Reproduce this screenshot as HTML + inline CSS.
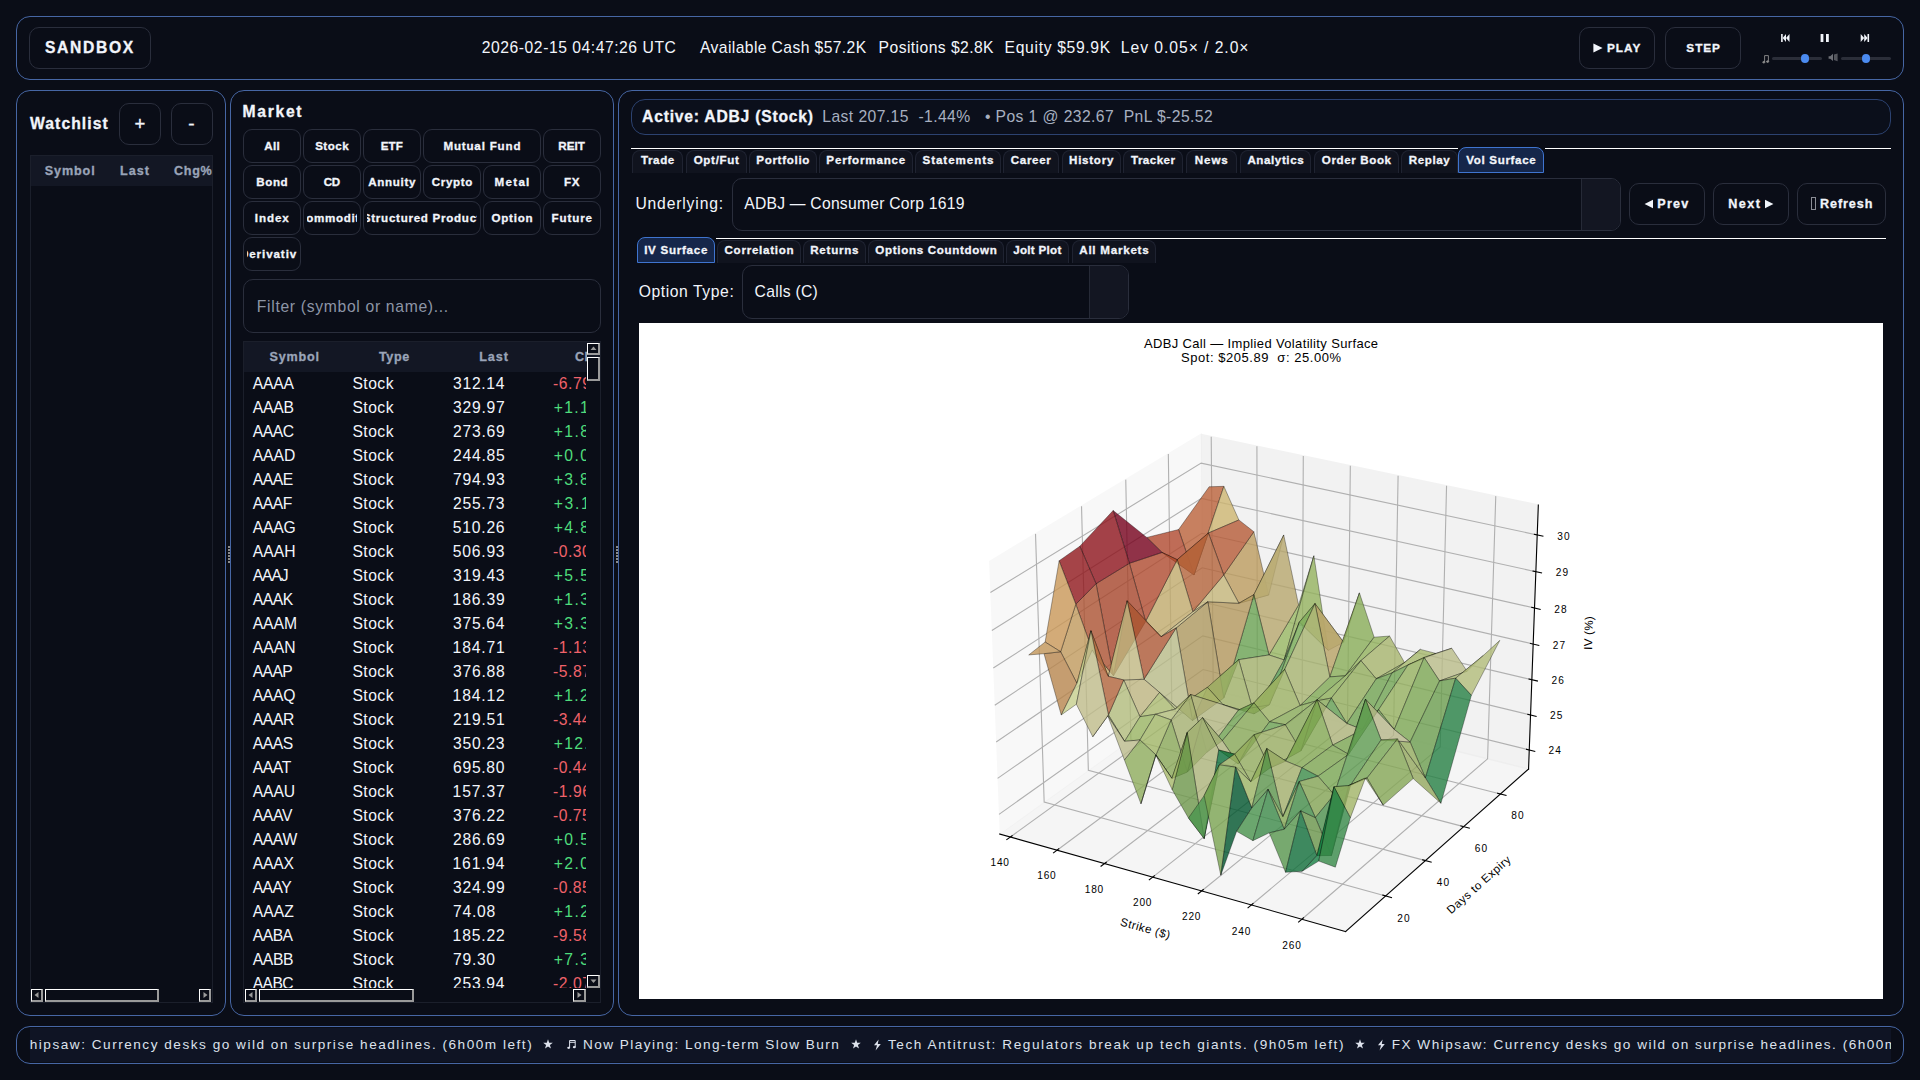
<!DOCTYPE html>
<html><head><meta charset="utf-8"><title>Sandbox</title>
<style>
html,body{margin:0;padding:0;background:#0a0d17;}
body{width:1920px;height:1080px;position:relative;overflow:hidden;font-family:"Liberation Sans",sans-serif;color:#f2f5fb;}
div,span,svg{position:absolute;box-sizing:border-box;}
.t{white-space:pre;line-height:20px;height:20px;}
.clip{overflow:hidden;}
.panel{border:1px solid #4666a4;border-radius:14px;background:#0a0d17;}
.btn{border:1px solid #2a2e3c;border-radius:10px;background:#0a0d17;}
.sbtn{border:1px solid #2a2e3c;border-radius:9px;background:#0a0d17;}
.tab{border:1px solid #1f2331;border-bottom:none;border-radius:8px 8px 0 0;background:#10131e;}
.tabsel{border:1px solid #3f74cf;border-radius:8px 8px 0 0;background:#15264a;}
.wl{background:#ffffff;height:1px;}
.hdr{background:#131724;}
.sb{background:#0a0d17;border-top:1px solid #fff;border-left:1px solid #fff;border-right:2px solid #9a9a9a;border-bottom:2px solid #9a9a9a;}

</style></head>
<body>
<div class="panel" style="left:16px;top:16px;width:1888px;height:64px;"></div>
<div class="panel" style="left:16px;top:90px;width:210px;height:926px;"></div>
<div class="panel" style="left:230px;top:90px;width:384px;height:926px;"></div>
<div class="panel" style="left:618px;top:90px;width:1286px;height:926px;"></div>
<div class="panel" style="left:16px;top:1026px;width:1888px;height:38px;"></div>
<div class="" style="left:228px;top:546px;width:2px;height:1.5px;background:#8a8a8a;"></div>
<div class="" style="left:228px;top:549px;width:2px;height:1.5px;background:#8a8a8a;"></div>
<div class="" style="left:228px;top:552px;width:2px;height:1.5px;background:#8a8a8a;"></div>
<div class="" style="left:228px;top:555px;width:2px;height:1.5px;background:#8a8a8a;"></div>
<div class="" style="left:228px;top:558px;width:2px;height:1.5px;background:#8a8a8a;"></div>
<div class="" style="left:228px;top:561px;width:2px;height:1.5px;background:#8a8a8a;"></div>
<div class="" style="left:616px;top:546px;width:2px;height:1.5px;background:#8a8a8a;"></div>
<div class="" style="left:616px;top:549px;width:2px;height:1.5px;background:#8a8a8a;"></div>
<div class="" style="left:616px;top:552px;width:2px;height:1.5px;background:#8a8a8a;"></div>
<div class="" style="left:616px;top:555px;width:2px;height:1.5px;background:#8a8a8a;"></div>
<div class="" style="left:616px;top:558px;width:2px;height:1.5px;background:#8a8a8a;"></div>
<div class="" style="left:616px;top:561px;width:2px;height:1.5px;background:#8a8a8a;"></div>
<div class="btn" style="left:29px;top:27px;width:122px;height:42px;"></div>
<span id="sandbox" class="t" style="left:44.94px;top:37.55px;font-size:15.7px;letter-spacing:1.641px;color:#f2f5fb;font-weight:700;-webkit-text-stroke:0.3px;">SANDBOX</span>
<span id="time" class="t" style="left:481.83px;top:37.85px;font-size:15.7px;letter-spacing:0.533px;color:#f2f5fb;">2026-02-15 04:47:26 UTC</span>
<span id="cash" class="t" style="left:700.06px;top:37.85px;font-size:15.7px;letter-spacing:0.384px;color:#f2f5fb;">Available Cash $57.2K</span>
<span id="pos" class="t" style="left:878.60px;top:37.85px;font-size:15.7px;letter-spacing:0.427px;color:#f2f5fb;">Positions $2.8K</span>
<span id="eq" class="t" style="left:1004.60px;top:37.85px;font-size:15.7px;letter-spacing:0.659px;color:#f2f5fb;">Equity $59.9K</span>
<span id="lev" class="t" style="left:1120.85px;top:37.85px;font-size:15.7px;letter-spacing:0.951px;color:#f2f5fb;">Lev 0.05× / 2.0×</span>
<div class="btn" style="left:1579px;top:27px;width:76px;height:42px;"></div>
<div class="btn" style="left:1665px;top:27px;width:76px;height:42px;"></div>
<svg style="left:1593px;top:43px" width="10" height="10" viewBox="0 0 10 10"><path d="M0.4 0.6 L9.6 5 L0.4 9.4 Z" fill="#f2f5fb"/></svg>
<span id="play" class="t" style="left:1606.92px;top:38.21px;font-size:11.8px;letter-spacing:1.018px;color:#f2f5fb;font-weight:700;-webkit-text-stroke:0.3px;">PLAY</span>
<span id="step" class="t" style="left:1686.36px;top:38.21px;font-size:11.8px;letter-spacing:0.898px;color:#f2f5fb;font-weight:700;-webkit-text-stroke:0.3px;">STEP</span>
<svg style="left:1780px;top:33px" width="92" height="10" viewBox="0 0 92 10">
<g fill="#f2f5fb">
<rect x="1.1" y="1" width="1.6" height="8"/><path d="M6 1 L6 9 L2.7 5 Z"/><path d="M9.5 1 L9.5 9 L6 5 Z"/>
<rect x="40.6" y="1" width="2.8" height="8"/><rect x="46" y="1" width="2.8" height="8"/>
<path d="M80.7 1 L84.2 5 L80.7 9 Z"/><path d="M84.2 1 L87.6 5 L84.2 9 Z"/><rect x="87.5" y="1" width="1.6" height="8"/>
</g></svg>
<div class="" style="left:1772px;top:57px;width:50px;height:3px;background:#2b2e39;border-radius:1.5px;"></div>
<div class="" style="left:1841px;top:57px;width:50px;height:3px;background:#2b2e39;border-radius:1.5px;"></div>
<div class="" style="left:1800.8px;top:54.4px;width:8.4px;height:8.4px;background:#4b8bf0;border-radius:50%;"></div>
<div class="" style="left:1861.8px;top:54.4px;width:8.4px;height:8.4px;background:#4b8bf0;border-radius:50%;"></div>
<svg style="left:1762px;top:54px" width="8" height="10" viewBox="0 0 8 10"><g fill="none" stroke="#8f8f8f" stroke-width="0.9"><path d="M2.6 8 V1.6 H6.4 V7.4"/><ellipse cx="1.8" cy="8.2" rx="1.1" ry="0.8" fill="#8f8f8f"/><ellipse cx="5.6" cy="7.6" rx="1.1" ry="0.8" fill="#8f8f8f"/></g></svg>
<svg style="left:1828px;top:53px" width="11" height="9" viewBox="0 0 11 9"><g fill="#6d6f76"><path d="M0.6 3.2 H2.2 L5 0.8 V8 L2.2 5.8 H0.6 Z"/><path d="M6 1.6 L9.6 0.6 V8.2 L6 7 Z" opacity="0.75"/></g></svg>
<span id="wl" class="t" style="left:29.98px;top:113.95px;font-size:15.7px;letter-spacing:1.082px;color:#f2f5fb;font-weight:700;-webkit-text-stroke:0.3px;">Watchlist</span>
<div class="btn" style="left:119px;top:103px;width:42px;height:42px;"></div>
<div class="btn" style="left:171px;top:103px;width:42px;height:42px;"></div>
<span id="plus" class="t" style="left:134.41px;top:114.38px;font-size:18.5px;letter-spacing:0.000px;color:#f2f5fb;-webkit-text-stroke:0.3px;">+</span>
<span id="minus" class="t" style="left:188.20px;top:114.41px;font-size:19px;letter-spacing:0.000px;color:#f2f5fb;-webkit-text-stroke:0.3px;">-</span>
<div class="" style="left:30px;top:155px;width:183px;height:848px;border:1px solid #1b1f2b;"></div>
<div class="hdr" style="left:31px;top:156px;width:181px;height:30px;"></div>
<span id="wsym" class="t" style="left:44.75px;top:161.43px;font-size:12.6px;letter-spacing:0.894px;color:#9aa4b8;font-weight:700;-webkit-text-stroke:0.3px;">Symbol</span>
<span id="wlast" class="t" style="left:120.11px;top:161.43px;font-size:12.6px;letter-spacing:0.961px;color:#9aa4b8;font-weight:700;-webkit-text-stroke:0.3px;">Last</span>
<div class="clip" style="left:160px;top:156px;width:52px;height:30px"><span id="wchg" class="t" style="left:13.92px;top:5.43px;font-size:12.6px;letter-spacing:0.745px;color:#9aa4b8;font-weight:700;-webkit-text-stroke:0.3px;">Chg%</span></div>
<div class="sb" style="left:31px;top:989px;width:12px;height:13px;"></div>
<div class="sb" style="left:45px;top:989px;width:114px;height:13px;"></div>
<div class="sb" style="left:199px;top:989px;width:12px;height:13px;"></div>
<svg style="left:31px;top:989px" width="12" height="13"><path d="M7.5 3 V9 L3.5 6 Z" fill="#9a9a9a"/></svg>
<svg style="left:199px;top:989px" width="12" height="13"><path d="M4.5 3 V9 L8.5 6 Z" fill="#9a9a9a"/></svg>
<span id="mk" class="t" style="left:242.62px;top:101.55px;font-size:15.7px;letter-spacing:1.678px;color:#f2f5fb;font-weight:700;-webkit-text-stroke:0.3px;">Market</span>
<div class="sbtn" style="left:243px;top:129px;width:58px;height:34px;"></div>
<div class="clip" style="left:247px;top:131px;width:50px;height:30px"><span id="b0" class="t" style="left:17.34px;top:5.17px;font-size:11.6px;letter-spacing:0.343px;color:#f2f5fb;font-weight:700;-webkit-text-stroke:0.3px;">All</span></div>
<div class="sbtn" style="left:303px;top:129px;width:58px;height:34px;"></div>
<div class="clip" style="left:307px;top:131px;width:50px;height:30px"><span id="b1" class="t" style="left:8.14px;top:5.17px;font-size:11.6px;letter-spacing:0.470px;color:#f2f5fb;font-weight:700;-webkit-text-stroke:0.3px;">Stock</span></div>
<div class="sbtn" style="left:363px;top:129px;width:58px;height:34px;"></div>
<div class="clip" style="left:367px;top:131px;width:50px;height:30px"><span id="b2" class="t" style="left:13.74px;top:5.17px;font-size:11.6px;letter-spacing:0.071px;color:#f2f5fb;font-weight:700;-webkit-text-stroke:0.3px;">ETF</span></div>
<div class="sbtn" style="left:423px;top:129px;width:118px;height:34px;"></div>
<div class="clip" style="left:427px;top:131px;width:110px;height:30px"><span id="b3" class="t" style="left:16.44px;top:5.17px;font-size:11.6px;letter-spacing:0.813px;color:#f2f5fb;font-weight:700;-webkit-text-stroke:0.3px;">Mutual Fund</span></div>
<div class="sbtn" style="left:543px;top:129px;width:58px;height:34px;"></div>
<div class="clip" style="left:547px;top:131px;width:50px;height:30px"><span id="b4" class="t" style="left:11.33px;top:5.17px;font-size:11.6px;letter-spacing:0.047px;color:#f2f5fb;font-weight:700;-webkit-text-stroke:0.3px;">REIT</span></div>
<div class="sbtn" style="left:243px;top:165px;width:58px;height:34px;"></div>
<div class="clip" style="left:247px;top:167px;width:50px;height:30px"><span id="b5" class="t" style="left:9.17px;top:5.17px;font-size:11.6px;letter-spacing:0.640px;color:#f2f5fb;font-weight:700;-webkit-text-stroke:0.3px;">Bond</span></div>
<div class="sbtn" style="left:303px;top:165px;width:58px;height:34px;"></div>
<div class="clip" style="left:307px;top:167px;width:50px;height:30px"><span id="b6" class="t" style="left:16.82px;top:5.17px;font-size:11.6px;letter-spacing:-0.525px;color:#f2f5fb;font-weight:700;-webkit-text-stroke:0.3px;">CD</span></div>
<div class="sbtn" style="left:363px;top:165px;width:58px;height:34px;"></div>
<div class="clip" style="left:367px;top:167px;width:50px;height:30px"><span id="b7" class="t" style="left:1.15px;top:5.17px;font-size:11.6px;letter-spacing:0.687px;color:#f2f5fb;font-weight:700;-webkit-text-stroke:0.3px;">Annuity</span></div>
<div class="sbtn" style="left:423px;top:165px;width:58px;height:34px;"></div>
<div class="clip" style="left:427px;top:167px;width:50px;height:30px"><span id="b8" class="t" style="left:4.69px;top:5.17px;font-size:11.6px;letter-spacing:0.662px;color:#f2f5fb;font-weight:700;-webkit-text-stroke:0.3px;">Crypto</span></div>
<div class="sbtn" style="left:483px;top:165px;width:58px;height:34px;"></div>
<div class="clip" style="left:487px;top:167px;width:50px;height:30px"><span id="b9" class="t" style="left:7.62px;top:5.17px;font-size:11.6px;letter-spacing:1.272px;color:#f2f5fb;font-weight:700;-webkit-text-stroke:0.3px;">Metal</span></div>
<div class="sbtn" style="left:543px;top:165px;width:58px;height:34px;"></div>
<div class="clip" style="left:547px;top:167px;width:50px;height:30px"><span id="b10" class="t" style="left:17.11px;top:5.17px;font-size:11.6px;letter-spacing:0.639px;color:#f2f5fb;font-weight:700;-webkit-text-stroke:0.3px;">FX</span></div>
<div class="sbtn" style="left:243px;top:201px;width:58px;height:34px;"></div>
<div class="clip" style="left:247px;top:203px;width:50px;height:30px"><span id="b11" class="t" style="left:7.81px;top:5.17px;font-size:11.6px;letter-spacing:0.904px;color:#f2f5fb;font-weight:700;-webkit-text-stroke:0.3px;">Index</span></div>
<div class="sbtn" style="left:303px;top:201px;width:58px;height:34px;"></div>
<div class="clip" style="left:307px;top:203px;width:50px;height:30px"><span id="b12" class="t" style="left:-9.92px;top:5.17px;font-size:11.6px;letter-spacing:0.682px;color:#f2f5fb;font-weight:700;-webkit-text-stroke:0.3px;">Commodity</span></div>
<div class="sbtn" style="left:363px;top:201px;width:118px;height:34px;"></div>
<div class="clip" style="left:367px;top:203px;width:110px;height:30px"><span id="b13" class="t" style="left:-4.17px;top:5.17px;font-size:11.6px;letter-spacing:0.717px;color:#f2f5fb;font-weight:700;-webkit-text-stroke:0.3px;">Structured Product</span></div>
<div class="sbtn" style="left:483px;top:201px;width:58px;height:34px;"></div>
<div class="clip" style="left:487px;top:203px;width:50px;height:30px"><span id="b14" class="t" style="left:4.50px;top:5.17px;font-size:11.6px;letter-spacing:0.751px;color:#f2f5fb;font-weight:700;-webkit-text-stroke:0.3px;">Option</span></div>
<div class="sbtn" style="left:543px;top:201px;width:58px;height:34px;"></div>
<div class="clip" style="left:547px;top:203px;width:50px;height:30px"><span id="b15" class="t" style="left:4.57px;top:5.17px;font-size:11.6px;letter-spacing:0.876px;color:#f2f5fb;font-weight:700;-webkit-text-stroke:0.3px;">Future</span></div>
<div class="sbtn" style="left:243px;top:237px;width:58px;height:34px;"></div>
<div class="clip" style="left:247px;top:239px;width:50px;height:30px"><span id="b16" class="t" style="left:-7.13px;top:5.17px;font-size:11.6px;letter-spacing:0.925px;color:#f2f5fb;font-weight:700;-webkit-text-stroke:0.3px;">Derivative</span></div>
<div class="btn" style="left:243px;top:279px;width:358px;height:54px;"></div>
<span id="filt" class="t" style="left:256.85px;top:296.55px;font-size:15.7px;letter-spacing:0.678px;color:#8d95a6;">Filter (symbol or name)...</span>
<div class="" style="left:243px;top:341px;width:358px;height:662px;border:1px solid #1b1f2b;"></div>
<div class="hdr" style="left:244px;top:342px;width:356px;height:30px;"></div>
<span id="msym" class="t" style="left:269.48px;top:347.23px;font-size:12.6px;letter-spacing:0.820px;color:#9aa4b8;font-weight:700;-webkit-text-stroke:0.3px;">Symbol</span>
<span id="mtype" class="t" style="left:378.94px;top:347.23px;font-size:12.6px;letter-spacing:0.652px;color:#9aa4b8;font-weight:700;-webkit-text-stroke:0.3px;">Type</span>
<span id="mlast" class="t" style="left:479.22px;top:347.23px;font-size:12.6px;letter-spacing:0.919px;color:#9aa4b8;font-weight:700;-webkit-text-stroke:0.3px;">Last</span>
<div class="clip" style="left:560px;top:342px;width:27px;height:30px"><span id="mchg" class="t" style="left:14.97px;top:5.23px;font-size:12.6px;letter-spacing:0.472px;color:#9aa4b8;font-weight:700;-webkit-text-stroke:0.3px;">Chg%</span></div>
<div class="clip" style="left:244px;top:372px;width:342px;height:616px"><span id="r0s" class="t" style="left:8.67px;top:1.55px;font-size:15.7px;letter-spacing:-0.178px;color:#f2f5fb;">AAAA</span></div>
<div class="clip" style="left:244px;top:372px;width:342px;height:616px"><span id="r0t" class="t" style="left:108.44px;top:1.55px;font-size:15.7px;letter-spacing:0.460px;color:#f2f5fb;">Stock</span></div>
<div class="clip" style="left:244px;top:372px;width:342px;height:616px"><span id="r0l" class="t" style="left:209.08px;top:1.55px;font-size:15.7px;letter-spacing:0.691px;color:#f2f5fb;">312.14</span></div>
<div class="clip" style="left:244px;top:372px;width:342px;height:616px"><span id="r0c" class="t" style="left:308.94px;top:1.55px;font-size:15.7px;letter-spacing:0.570px;color:#f0626a;">-6.79</span></div>
<div class="clip" style="left:244px;top:372px;width:342px;height:616px"><span id="r1s" class="t" style="left:8.67px;top:25.55px;font-size:15.7px;letter-spacing:-0.146px;color:#f2f5fb;">AAAB</span></div>
<div class="clip" style="left:244px;top:372px;width:342px;height:616px"><span id="r1t" class="t" style="left:108.44px;top:25.55px;font-size:15.7px;letter-spacing:0.460px;color:#f2f5fb;">Stock</span></div>
<div class="clip" style="left:244px;top:372px;width:342px;height:616px"><span id="r1l" class="t" style="left:209.08px;top:25.55px;font-size:15.7px;letter-spacing:0.753px;color:#f2f5fb;">329.97</span></div>
<div class="clip" style="left:244px;top:372px;width:342px;height:616px"><span id="r1c" class="t" style="left:309.78px;top:25.55px;font-size:15.7px;letter-spacing:1.347px;color:#4fdc7c;">+1.15</span></div>
<div class="clip" style="left:244px;top:372px;width:342px;height:616px"><span id="r2s" class="t" style="left:8.67px;top:49.55px;font-size:15.7px;letter-spacing:-0.406px;color:#f2f5fb;">AAAC</span></div>
<div class="clip" style="left:244px;top:372px;width:342px;height:616px"><span id="r2t" class="t" style="left:108.44px;top:49.55px;font-size:15.7px;letter-spacing:0.460px;color:#f2f5fb;">Stock</span></div>
<div class="clip" style="left:244px;top:372px;width:342px;height:616px"><span id="r2l" class="t" style="left:209.08px;top:49.55px;font-size:15.7px;letter-spacing:0.723px;color:#f2f5fb;">273.69</span></div>
<div class="clip" style="left:244px;top:372px;width:342px;height:616px"><span id="r2c" class="t" style="left:309.78px;top:49.55px;font-size:15.7px;letter-spacing:1.382px;color:#4fdc7c;">+1.83</span></div>
<div class="clip" style="left:244px;top:372px;width:342px;height:616px"><span id="r3s" class="t" style="left:8.67px;top:73.55px;font-size:15.7px;letter-spacing:0.002px;color:#f2f5fb;">AAAD</span></div>
<div class="clip" style="left:244px;top:372px;width:342px;height:616px"><span id="r3t" class="t" style="left:108.44px;top:73.55px;font-size:15.7px;letter-spacing:0.460px;color:#f2f5fb;">Stock</span></div>
<div class="clip" style="left:244px;top:372px;width:342px;height:616px"><span id="r3l" class="t" style="left:209.08px;top:73.55px;font-size:15.7px;letter-spacing:0.721px;color:#f2f5fb;">244.85</span></div>
<div class="clip" style="left:244px;top:372px;width:342px;height:616px"><span id="r3c" class="t" style="left:309.78px;top:73.55px;font-size:15.7px;letter-spacing:1.409px;color:#4fdc7c;">+0.02</span></div>
<div class="clip" style="left:244px;top:372px;width:342px;height:616px"><span id="r4s" class="t" style="left:8.67px;top:97.55px;font-size:15.7px;letter-spacing:-0.424px;color:#f2f5fb;">AAAE</span></div>
<div class="clip" style="left:244px;top:372px;width:342px;height:616px"><span id="r4t" class="t" style="left:108.44px;top:97.55px;font-size:15.7px;letter-spacing:0.460px;color:#f2f5fb;">Stock</span></div>
<div class="clip" style="left:244px;top:372px;width:342px;height:616px"><span id="r4l" class="t" style="left:209.08px;top:97.55px;font-size:15.7px;letter-spacing:0.715px;color:#f2f5fb;">794.93</span></div>
<div class="clip" style="left:244px;top:372px;width:342px;height:616px"><span id="r4c" class="t" style="left:309.78px;top:97.55px;font-size:15.7px;letter-spacing:1.316px;color:#4fdc7c;">+3.84</span></div>
<div class="clip" style="left:244px;top:372px;width:342px;height:616px"><span id="r5s" class="t" style="left:8.67px;top:121.55px;font-size:15.7px;letter-spacing:-0.445px;color:#f2f5fb;">AAAF</span></div>
<div class="clip" style="left:244px;top:372px;width:342px;height:616px"><span id="r5t" class="t" style="left:108.44px;top:121.55px;font-size:15.7px;letter-spacing:0.460px;color:#f2f5fb;">Stock</span></div>
<div class="clip" style="left:244px;top:372px;width:342px;height:616px"><span id="r5l" class="t" style="left:209.08px;top:121.55px;font-size:15.7px;letter-spacing:0.707px;color:#f2f5fb;">255.73</span></div>
<div class="clip" style="left:244px;top:372px;width:342px;height:616px"><span id="r5c" class="t" style="left:309.78px;top:121.55px;font-size:15.7px;letter-spacing:1.689px;color:#4fdc7c;">+3.11</span></div>
<div class="clip" style="left:244px;top:372px;width:342px;height:616px"><span id="r6s" class="t" style="left:8.67px;top:145.55px;font-size:15.7px;letter-spacing:-0.216px;color:#f2f5fb;">AAAG</span></div>
<div class="clip" style="left:244px;top:372px;width:342px;height:616px"><span id="r6t" class="t" style="left:108.44px;top:145.55px;font-size:15.7px;letter-spacing:0.460px;color:#f2f5fb;">Stock</span></div>
<div class="clip" style="left:244px;top:372px;width:342px;height:616px"><span id="r6l" class="t" style="left:208.83px;top:145.55px;font-size:15.7px;letter-spacing:0.756px;color:#f2f5fb;">510.26</span></div>
<div class="clip" style="left:244px;top:372px;width:342px;height:616px"><span id="r6c" class="t" style="left:309.78px;top:145.55px;font-size:15.7px;letter-spacing:1.382px;color:#4fdc7c;">+4.88</span></div>
<div class="clip" style="left:244px;top:372px;width:342px;height:616px"><span id="r7s" class="t" style="left:8.67px;top:169.55px;font-size:15.7px;letter-spacing:0.091px;color:#f2f5fb;">AAAH</span></div>
<div class="clip" style="left:244px;top:372px;width:342px;height:616px"><span id="r7t" class="t" style="left:108.44px;top:169.55px;font-size:15.7px;letter-spacing:0.460px;color:#f2f5fb;">Stock</span></div>
<div class="clip" style="left:244px;top:372px;width:342px;height:616px"><span id="r7l" class="t" style="left:208.83px;top:169.55px;font-size:15.7px;letter-spacing:0.756px;color:#f2f5fb;">506.93</span></div>
<div class="clip" style="left:244px;top:372px;width:342px;height:616px"><span id="r7c" class="t" style="left:308.94px;top:169.55px;font-size:15.7px;letter-spacing:0.521px;color:#f0626a;">-0.30</span></div>
<div class="clip" style="left:244px;top:372px;width:342px;height:616px"><span id="r8s" class="t" style="left:8.67px;top:193.55px;font-size:15.7px;letter-spacing:-1.076px;color:#f2f5fb;">AAAJ</span></div>
<div class="clip" style="left:244px;top:372px;width:342px;height:616px"><span id="r8t" class="t" style="left:108.44px;top:193.55px;font-size:15.7px;letter-spacing:0.460px;color:#f2f5fb;">Stock</span></div>
<div class="clip" style="left:244px;top:372px;width:342px;height:616px"><span id="r8l" class="t" style="left:209.08px;top:193.55px;font-size:15.7px;letter-spacing:0.707px;color:#f2f5fb;">319.43</span></div>
<div class="clip" style="left:244px;top:372px;width:342px;height:616px"><span id="r8c" class="t" style="left:309.78px;top:193.55px;font-size:15.7px;letter-spacing:1.409px;color:#4fdc7c;">+5.52</span></div>
<div class="clip" style="left:244px;top:372px;width:342px;height:616px"><span id="r9s" class="t" style="left:8.67px;top:217.55px;font-size:15.7px;letter-spacing:-0.412px;color:#f2f5fb;">AAAK</span></div>
<div class="clip" style="left:244px;top:372px;width:342px;height:616px"><span id="r9t" class="t" style="left:108.44px;top:217.55px;font-size:15.7px;letter-spacing:0.460px;color:#f2f5fb;">Stock</span></div>
<div class="clip" style="left:244px;top:372px;width:342px;height:616px"><span id="r9l" class="t" style="left:208.62px;top:217.55px;font-size:15.7px;letter-spacing:0.819px;color:#f2f5fb;">186.39</span></div>
<div class="clip" style="left:244px;top:372px;width:342px;height:616px"><span id="r9c" class="t" style="left:309.78px;top:217.55px;font-size:15.7px;letter-spacing:1.409px;color:#4fdc7c;">+1.37</span></div>
<div class="clip" style="left:244px;top:372px;width:342px;height:616px"><span id="r10s" class="t" style="left:8.67px;top:241.55px;font-size:15.7px;letter-spacing:-0.001px;color:#f2f5fb;">AAAM</span></div>
<div class="clip" style="left:244px;top:372px;width:342px;height:616px"><span id="r10t" class="t" style="left:108.44px;top:241.55px;font-size:15.7px;letter-spacing:0.460px;color:#f2f5fb;">Stock</span></div>
<div class="clip" style="left:244px;top:372px;width:342px;height:616px"><span id="r10l" class="t" style="left:209.08px;top:241.55px;font-size:15.7px;letter-spacing:0.691px;color:#f2f5fb;">375.64</span></div>
<div class="clip" style="left:244px;top:372px;width:342px;height:616px"><span id="r10c" class="t" style="left:309.78px;top:241.55px;font-size:15.7px;letter-spacing:1.398px;color:#4fdc7c;">+3.31</span></div>
<div class="clip" style="left:244px;top:372px;width:342px;height:616px"><span id="r11s" class="t" style="left:8.67px;top:265.55px;font-size:15.7px;letter-spacing:0.066px;color:#f2f5fb;">AAAN</span></div>
<div class="clip" style="left:244px;top:372px;width:342px;height:616px"><span id="r11t" class="t" style="left:108.44px;top:265.55px;font-size:15.7px;letter-spacing:0.460px;color:#f2f5fb;">Stock</span></div>
<div class="clip" style="left:244px;top:372px;width:342px;height:616px"><span id="r11l" class="t" style="left:208.62px;top:265.55px;font-size:15.7px;letter-spacing:0.840px;color:#f2f5fb;">184.71</span></div>
<div class="clip" style="left:244px;top:372px;width:342px;height:616px"><span id="r11c" class="t" style="left:308.94px;top:265.55px;font-size:15.7px;letter-spacing:0.567px;color:#f0626a;">-1.13</span></div>
<div class="clip" style="left:244px;top:372px;width:342px;height:616px"><span id="r12s" class="t" style="left:8.67px;top:289.55px;font-size:15.7px;letter-spacing:-0.581px;color:#f2f5fb;">AAAP</span></div>
<div class="clip" style="left:244px;top:372px;width:342px;height:616px"><span id="r12t" class="t" style="left:108.44px;top:289.55px;font-size:15.7px;letter-spacing:0.460px;color:#f2f5fb;">Stock</span></div>
<div class="clip" style="left:244px;top:372px;width:342px;height:616px"><span id="r12l" class="t" style="left:209.08px;top:289.55px;font-size:15.7px;letter-spacing:0.733px;color:#f2f5fb;">376.88</span></div>
<div class="clip" style="left:244px;top:372px;width:342px;height:616px"><span id="r12c" class="t" style="left:308.94px;top:289.55px;font-size:15.7px;letter-spacing:0.549px;color:#f0626a;">-5.87</span></div>
<div class="clip" style="left:244px;top:372px;width:342px;height:616px"><span id="r13s" class="t" style="left:8.67px;top:313.55px;font-size:15.7px;letter-spacing:-0.294px;color:#f2f5fb;">AAAQ</span></div>
<div class="clip" style="left:244px;top:372px;width:342px;height:616px"><span id="r13t" class="t" style="left:108.44px;top:313.55px;font-size:15.7px;letter-spacing:0.460px;color:#f2f5fb;">Stock</span></div>
<div class="clip" style="left:244px;top:372px;width:342px;height:616px"><span id="r13l" class="t" style="left:208.62px;top:313.55px;font-size:15.7px;letter-spacing:0.813px;color:#f2f5fb;">184.12</span></div>
<div class="clip" style="left:244px;top:372px;width:342px;height:616px"><span id="r13c" class="t" style="left:309.78px;top:313.55px;font-size:15.7px;letter-spacing:1.316px;color:#4fdc7c;">+1.24</span></div>
<div class="clip" style="left:244px;top:372px;width:342px;height:616px"><span id="r14s" class="t" style="left:8.67px;top:337.55px;font-size:15.7px;letter-spacing:-0.326px;color:#f2f5fb;">AAAR</span></div>
<div class="clip" style="left:244px;top:372px;width:342px;height:616px"><span id="r14t" class="t" style="left:108.44px;top:337.55px;font-size:15.7px;letter-spacing:0.460px;color:#f2f5fb;">Stock</span></div>
<div class="clip" style="left:244px;top:372px;width:342px;height:616px"><span id="r14l" class="t" style="left:209.08px;top:337.55px;font-size:15.7px;letter-spacing:0.747px;color:#f2f5fb;">219.51</span></div>
<div class="clip" style="left:244px;top:372px;width:342px;height:616px"><span id="r14c" class="t" style="left:308.94px;top:337.55px;font-size:15.7px;letter-spacing:0.474px;color:#f0626a;">-3.44</span></div>
<div class="clip" style="left:244px;top:372px;width:342px;height:616px"><span id="r15s" class="t" style="left:8.67px;top:361.55px;font-size:15.7px;letter-spacing:-0.395px;color:#f2f5fb;">AAAS</span></div>
<div class="clip" style="left:244px;top:372px;width:342px;height:616px"><span id="r15t" class="t" style="left:108.44px;top:361.55px;font-size:15.7px;letter-spacing:0.460px;color:#f2f5fb;">Stock</span></div>
<div class="clip" style="left:244px;top:372px;width:342px;height:616px"><span id="r15l" class="t" style="left:209.08px;top:361.55px;font-size:15.7px;letter-spacing:0.707px;color:#f2f5fb;">350.23</span></div>
<div class="clip" style="left:244px;top:372px;width:342px;height:616px"><span id="r15c" class="t" style="left:309.78px;top:361.55px;font-size:15.7px;letter-spacing:1.316px;color:#4fdc7c;">+12.4</span></div>
<div class="clip" style="left:244px;top:372px;width:342px;height:616px"><span id="r16s" class="t" style="left:8.67px;top:385.55px;font-size:15.7px;letter-spacing:-0.394px;color:#f2f5fb;">AAAT</span></div>
<div class="clip" style="left:244px;top:372px;width:342px;height:616px"><span id="r16t" class="t" style="left:108.44px;top:385.55px;font-size:15.7px;letter-spacing:0.460px;color:#f2f5fb;">Stock</span></div>
<div class="clip" style="left:244px;top:372px;width:342px;height:616px"><span id="r16l" class="t" style="left:209.08px;top:385.55px;font-size:15.7px;letter-spacing:0.690px;color:#f2f5fb;">695.80</span></div>
<div class="clip" style="left:244px;top:372px;width:342px;height:616px"><span id="r16c" class="t" style="left:308.94px;top:385.55px;font-size:15.7px;letter-spacing:0.474px;color:#f0626a;">-0.44</span></div>
<div class="clip" style="left:244px;top:372px;width:342px;height:616px"><span id="r17s" class="t" style="left:8.67px;top:409.55px;font-size:15.7px;letter-spacing:-0.067px;color:#f2f5fb;">AAAU</span></div>
<div class="clip" style="left:244px;top:372px;width:342px;height:616px"><span id="r17t" class="t" style="left:108.44px;top:409.55px;font-size:15.7px;letter-spacing:0.460px;color:#f2f5fb;">Stock</span></div>
<div class="clip" style="left:244px;top:372px;width:342px;height:616px"><span id="r17l" class="t" style="left:208.62px;top:409.55px;font-size:15.7px;letter-spacing:0.813px;color:#f2f5fb;">157.37</span></div>
<div class="clip" style="left:244px;top:372px;width:342px;height:616px"><span id="r17c" class="t" style="left:308.94px;top:409.55px;font-size:15.7px;letter-spacing:0.567px;color:#f0626a;">-1.96</span></div>
<div class="clip" style="left:244px;top:372px;width:342px;height:616px"><span id="r18s" class="t" style="left:8.67px;top:433.55px;font-size:15.7px;letter-spacing:-0.257px;color:#f2f5fb;">AAAV</span></div>
<div class="clip" style="left:244px;top:372px;width:342px;height:616px"><span id="r18t" class="t" style="left:108.44px;top:433.55px;font-size:15.7px;letter-spacing:0.460px;color:#f2f5fb;">Stock</span></div>
<div class="clip" style="left:244px;top:372px;width:342px;height:616px"><span id="r18l" class="t" style="left:209.08px;top:433.55px;font-size:15.7px;letter-spacing:0.753px;color:#f2f5fb;">376.22</span></div>
<div class="clip" style="left:244px;top:372px;width:342px;height:616px"><span id="r18c" class="t" style="left:308.94px;top:433.55px;font-size:15.7px;letter-spacing:0.527px;color:#f0626a;">-0.75</span></div>
<div class="clip" style="left:244px;top:372px;width:342px;height:616px"><span id="r19s" class="t" style="left:8.67px;top:457.55px;font-size:15.7px;letter-spacing:-0.359px;color:#f2f5fb;">AAAW</span></div>
<div class="clip" style="left:244px;top:372px;width:342px;height:616px"><span id="r19t" class="t" style="left:108.44px;top:457.55px;font-size:15.7px;letter-spacing:0.460px;color:#f2f5fb;">Stock</span></div>
<div class="clip" style="left:244px;top:372px;width:342px;height:616px"><span id="r19l" class="t" style="left:209.08px;top:457.55px;font-size:15.7px;letter-spacing:0.723px;color:#f2f5fb;">286.69</span></div>
<div class="clip" style="left:244px;top:372px;width:342px;height:616px"><span id="r19c" class="t" style="left:309.78px;top:457.55px;font-size:15.7px;letter-spacing:1.409px;color:#4fdc7c;">+0.57</span></div>
<div class="clip" style="left:244px;top:372px;width:342px;height:616px"><span id="r20s" class="t" style="left:8.67px;top:481.55px;font-size:15.7px;letter-spacing:-0.181px;color:#f2f5fb;">AAAX</span></div>
<div class="clip" style="left:244px;top:372px;width:342px;height:616px"><span id="r20t" class="t" style="left:108.44px;top:481.55px;font-size:15.7px;letter-spacing:0.460px;color:#f2f5fb;">Stock</span></div>
<div class="clip" style="left:244px;top:372px;width:342px;height:616px"><span id="r20l" class="t" style="left:208.62px;top:481.55px;font-size:15.7px;letter-spacing:0.786px;color:#f2f5fb;">161.94</span></div>
<div class="clip" style="left:244px;top:372px;width:342px;height:616px"><span id="r20c" class="t" style="left:309.78px;top:481.55px;font-size:15.7px;letter-spacing:1.382px;color:#4fdc7c;">+2.08</span></div>
<div class="clip" style="left:244px;top:372px;width:342px;height:616px"><span id="r21s" class="t" style="left:8.67px;top:505.55px;font-size:15.7px;letter-spacing:-0.575px;color:#f2f5fb;">AAAY</span></div>
<div class="clip" style="left:244px;top:372px;width:342px;height:616px"><span id="r21t" class="t" style="left:108.44px;top:505.55px;font-size:15.7px;letter-spacing:0.460px;color:#f2f5fb;">Stock</span></div>
<div class="clip" style="left:244px;top:372px;width:342px;height:616px"><span id="r21l" class="t" style="left:209.08px;top:505.55px;font-size:15.7px;letter-spacing:0.723px;color:#f2f5fb;">324.99</span></div>
<div class="clip" style="left:244px;top:372px;width:342px;height:616px"><span id="r21c" class="t" style="left:308.94px;top:505.55px;font-size:15.7px;letter-spacing:0.527px;color:#f0626a;">-0.85</span></div>
<div class="clip" style="left:244px;top:372px;width:342px;height:616px"><span id="r22s" class="t" style="left:8.67px;top:529.55px;font-size:15.7px;letter-spacing:0.053px;color:#f2f5fb;">AAAZ</span></div>
<div class="clip" style="left:244px;top:372px;width:342px;height:616px"><span id="r22t" class="t" style="left:108.44px;top:529.55px;font-size:15.7px;letter-spacing:0.460px;color:#f2f5fb;">Stock</span></div>
<div class="clip" style="left:244px;top:372px;width:342px;height:616px"><span id="r22l" class="t" style="left:209.08px;top:529.55px;font-size:15.7px;letter-spacing:0.701px;color:#f2f5fb;">74.08</span></div>
<div class="clip" style="left:244px;top:372px;width:342px;height:616px"><span id="r22c" class="t" style="left:309.78px;top:529.55px;font-size:15.7px;letter-spacing:1.409px;color:#4fdc7c;">+1.27</span></div>
<div class="clip" style="left:244px;top:372px;width:342px;height:616px"><span id="r23s" class="t" style="left:8.67px;top:553.55px;font-size:15.7px;letter-spacing:-0.479px;color:#f2f5fb;">AABA</span></div>
<div class="clip" style="left:244px;top:372px;width:342px;height:616px"><span id="r23t" class="t" style="left:108.44px;top:553.55px;font-size:15.7px;letter-spacing:0.460px;color:#f2f5fb;">Stock</span></div>
<div class="clip" style="left:244px;top:372px;width:342px;height:616px"><span id="r23l" class="t" style="left:208.62px;top:553.55px;font-size:15.7px;letter-spacing:0.813px;color:#f2f5fb;">185.22</span></div>
<div class="clip" style="left:244px;top:372px;width:342px;height:616px"><span id="r23c" class="t" style="left:308.94px;top:553.55px;font-size:15.7px;letter-spacing:0.549px;color:#f0626a;">-9.58</span></div>
<div class="clip" style="left:244px;top:372px;width:342px;height:616px"><span id="r24s" class="t" style="left:8.67px;top:577.55px;font-size:15.7px;letter-spacing:-0.308px;color:#f2f5fb;">AABB</span></div>
<div class="clip" style="left:244px;top:372px;width:342px;height:616px"><span id="r24t" class="t" style="left:108.44px;top:577.55px;font-size:15.7px;letter-spacing:0.460px;color:#f2f5fb;">Stock</span></div>
<div class="clip" style="left:244px;top:372px;width:342px;height:616px"><span id="r24l" class="t" style="left:209.08px;top:577.55px;font-size:15.7px;letter-spacing:0.683px;color:#f2f5fb;">79.30</span></div>
<div class="clip" style="left:244px;top:372px;width:342px;height:616px"><span id="r24c" class="t" style="left:309.78px;top:577.55px;font-size:15.7px;letter-spacing:1.398px;color:#4fdc7c;">+7.31</span></div>
<div class="clip" style="left:244px;top:372px;width:342px;height:616px"><span id="r25s" class="t" style="left:8.67px;top:601.55px;font-size:15.7px;letter-spacing:-0.579px;color:#f2f5fb;">AABC</span></div>
<div class="clip" style="left:244px;top:372px;width:342px;height:616px"><span id="r25t" class="t" style="left:108.44px;top:601.55px;font-size:15.7px;letter-spacing:0.460px;color:#f2f5fb;">Stock</span></div>
<div class="clip" style="left:244px;top:372px;width:342px;height:616px"><span id="r25l" class="t" style="left:209.08px;top:601.55px;font-size:15.7px;letter-spacing:0.691px;color:#f2f5fb;">253.94</span></div>
<div class="clip" style="left:244px;top:372px;width:342px;height:616px"><span id="r25c" class="t" style="left:308.94px;top:601.55px;font-size:15.7px;letter-spacing:0.549px;color:#f0626a;">-2.07</span></div>
<div class="sb" style="left:587px;top:343px;width:13px;height:12px;"></div>
<div class="sb" style="left:587px;top:357px;width:13px;height:24px;"></div>
<div class="sb" style="left:587px;top:975px;width:13px;height:13px;"></div>
<svg style="left:587px;top:343px" width="13" height="12"><path d="M3.5 7 H9.5 L6.5 3.5 Z" fill="#9a9a9a"/></svg>
<svg style="left:587px;top:975px" width="13" height="13"><path d="M3.5 4.5 H9.5 L6.5 8 Z" fill="#9a9a9a"/></svg>
<div class="sb" style="left:245px;top:989px;width:12px;height:13px;"></div>
<div class="sb" style="left:259px;top:989px;width:155px;height:13px;"></div>
<div class="sb" style="left:573px;top:989px;width:13px;height:13px;"></div>
<svg style="left:245px;top:989px" width="12" height="13"><path d="M7.5 3 V9 L3.5 6 Z" fill="#9a9a9a"/></svg>
<svg style="left:573px;top:989px" width="13" height="13"><path d="M4.5 3 V9 L8.5 6 Z" fill="#9a9a9a"/></svg>
<div class="" style="left:631px;top:99px;width:1260px;height:36px;border:1px solid #2c4270;border-radius:14px;background:#0b0f1b;"></div>
<span id="act" class="t" style="left:642.04px;top:106.85px;font-size:15.7px;letter-spacing:0.774px;color:#f2f5fb;font-weight:700;-webkit-text-stroke:0.3px;">Active: ADBJ (Stock)</span>
<span id="actg" class="t" style="left:822.33px;top:106.85px;font-size:15.7px;letter-spacing:0.413px;color:#a7afc0;">Last 207.15  -1.44%   • Pos 1 @ 232.67  PnL $-25.52</span>
<div class="wl" style="left:631px;top:148px;width:827px;height:1px;"></div>
<div class="wl" style="left:1545px;top:148px;width:346px;height:1px;"></div>
<div class="tab" style="left:632px;top:150px;width:51px;height:23px;"></div>
<span id="t0" class="t" style="left:640.96px;top:150.17px;font-size:11.6px;letter-spacing:0.608px;color:#f2f5fb;font-weight:700;-webkit-text-stroke:0.3px;">Trade</span>
<div class="tab" style="left:686px;top:150px;width:61px;height:23px;"></div>
<span id="t1" class="t" style="left:693.64px;top:150.17px;font-size:11.6px;letter-spacing:0.683px;color:#f2f5fb;font-weight:700;-webkit-text-stroke:0.3px;">Opt/Fut</span>
<div class="tab" style="left:749px;top:150px;width:68px;height:23px;"></div>
<span id="t2" class="t" style="left:756.22px;top:150.17px;font-size:11.6px;letter-spacing:0.688px;color:#f2f5fb;font-weight:700;-webkit-text-stroke:0.3px;">Portfolio</span>
<div class="tab" style="left:819px;top:150px;width:94px;height:23px;"></div>
<span id="t3" class="t" style="left:826.37px;top:150.17px;font-size:11.6px;letter-spacing:0.802px;color:#f2f5fb;font-weight:700;-webkit-text-stroke:0.3px;">Performance</span>
<div class="tab" style="left:915px;top:150px;width:86px;height:23px;"></div>
<span id="t4" class="t" style="left:922.44px;top:150.17px;font-size:11.6px;letter-spacing:0.957px;color:#f2f5fb;font-weight:700;-webkit-text-stroke:0.3px;">Statements</span>
<div class="tab" style="left:1003px;top:150px;width:56px;height:23px;"></div>
<span id="t5" class="t" style="left:1010.78px;top:150.17px;font-size:11.6px;letter-spacing:0.655px;color:#f2f5fb;font-weight:700;-webkit-text-stroke:0.3px;">Career</span>
<div class="tab" style="left:1062px;top:150px;width:59px;height:23px;"></div>
<span id="t6" class="t" style="left:1069.05px;top:150.17px;font-size:11.6px;letter-spacing:0.725px;color:#f2f5fb;font-weight:700;-webkit-text-stroke:0.3px;">History</span>
<div class="tab" style="left:1123px;top:150px;width:60px;height:23px;"></div>
<span id="t7" class="t" style="left:1131.00px;top:150.17px;font-size:11.6px;letter-spacing:0.445px;color:#f2f5fb;font-weight:700;-webkit-text-stroke:0.3px;">Tracker</span>
<div class="tab" style="left:1186px;top:150px;width:51px;height:23px;"></div>
<span id="t8" class="t" style="left:1194.75px;top:150.17px;font-size:11.6px;letter-spacing:0.924px;color:#f2f5fb;font-weight:700;-webkit-text-stroke:0.3px;">News</span>
<div class="tab" style="left:1240px;top:150px;width:71px;height:23px;"></div>
<span id="t9" class="t" style="left:1247.40px;top:150.17px;font-size:11.6px;letter-spacing:0.584px;color:#f2f5fb;font-weight:700;-webkit-text-stroke:0.3px;">Analytics</span>
<div class="tab" style="left:1314px;top:150px;width:85px;height:23px;"></div>
<span id="t10" class="t" style="left:1321.81px;top:150.17px;font-size:11.6px;letter-spacing:0.608px;color:#f2f5fb;font-weight:700;-webkit-text-stroke:0.3px;">Order Book</span>
<div class="tab" style="left:1401px;top:150px;width:57px;height:23px;"></div>
<span id="t11" class="t" style="left:1408.77px;top:150.17px;font-size:11.6px;letter-spacing:0.601px;color:#f2f5fb;font-weight:700;-webkit-text-stroke:0.3px;">Replay</span>
<div class="tabsel" style="left:1458px;top:147px;width:86px;height:26px;"></div>
<span id="tvs" class="t" style="left:1466.37px;top:150.17px;font-size:11.6px;letter-spacing:0.642px;color:#f2f5fb;font-weight:700;-webkit-text-stroke:0.3px;">Vol Surface</span>
<span id="und" class="t" style="left:635.38px;top:193.75px;font-size:15.7px;letter-spacing:0.839px;color:#f2f5fb;">Underlying:</span>
<div class="btn" style="left:732px;top:178px;width:889px;height:53px;overflow:hidden;"><div style="left:848px;top:0;width:40px;height:51px;background:#131622;border-left:1px solid #262a37;"></div></div>
<span id="undv" class="t" style="left:744.19px;top:193.75px;font-size:15.7px;letter-spacing:0.237px;color:#f2f5fb;">ADBJ — Consumer Corp 1619</span>
<div class="btn" style="left:1629px;top:183px;width:76px;height:42px;"></div>
<div class="btn" style="left:1713px;top:183px;width:76px;height:42px;"></div>
<div class="btn" style="left:1797px;top:183px;width:89px;height:42px;"></div>
<svg style="left:1644px;top:199px" width="10" height="10" viewBox="0 0 10 10"><path d="M9 0.8 L0.6 5 L9 9.2 Z" fill="#f2f5fb"/></svg>
<span id="prev" class="t" style="left:1657.34px;top:194.13px;font-size:12.6px;letter-spacing:1.216px;color:#f2f5fb;font-weight:700;-webkit-text-stroke:0.3px;">Prev</span>
<span id="next" class="t" style="left:1728.34px;top:194.13px;font-size:12.6px;letter-spacing:1.410px;color:#f2f5fb;font-weight:700;-webkit-text-stroke:0.3px;">Next</span>
<svg style="left:1764px;top:199px" width="10" height="10" viewBox="0 0 10 10"><path d="M1 0.8 L9.4 5 L1 9.2 Z" fill="#f2f5fb"/></svg>
<div class="" style="left:1811px;top:197px;width:5px;height:13px;border:1px solid #8a8d95;"></div>
<span id="refr" class="t" style="left:1820.04px;top:194.13px;font-size:12.6px;letter-spacing:0.906px;color:#f2f5fb;font-weight:700;-webkit-text-stroke:0.3px;">Refresh</span>
<div class="wl" style="left:716px;top:238px;width:1170px;height:1px;"></div>
<div class="tab" style="left:717px;top:240px;width:84px;height:23px;"></div>
<span id="s0" class="t" style="left:724.52px;top:240.17px;font-size:11.6px;letter-spacing:0.721px;color:#f2f5fb;font-weight:700;-webkit-text-stroke:0.3px;">Correlation</span>
<div class="tab" style="left:803px;top:240px;width:63px;height:23px;"></div>
<span id="s1" class="t" style="left:810.18px;top:240.17px;font-size:11.6px;letter-spacing:0.758px;color:#f2f5fb;font-weight:700;-webkit-text-stroke:0.3px;">Returns</span>
<div class="tab" style="left:868px;top:240px;width:136px;height:23px;"></div>
<span id="s2" class="t" style="left:875.36px;top:240.17px;font-size:11.6px;letter-spacing:0.665px;color:#f2f5fb;font-weight:700;-webkit-text-stroke:0.3px;">Options Countdown</span>
<div class="tab" style="left:1006px;top:240px;width:63px;height:23px;"></div>
<span id="s3" class="t" style="left:1013.18px;top:240.17px;font-size:11.6px;letter-spacing:0.301px;color:#f2f5fb;font-weight:700;-webkit-text-stroke:0.3px;">Jolt Plot</span>
<div class="tab" style="left:1072px;top:240px;width:84px;height:23px;"></div>
<span id="s4" class="t" style="left:1079.28px;top:240.17px;font-size:11.6px;letter-spacing:0.753px;color:#f2f5fb;font-weight:700;-webkit-text-stroke:0.3px;">All Markets</span>
<div class="tabsel" style="left:637px;top:237px;width:78px;height:26px;"></div>
<span id="sivs" class="t" style="left:644.13px;top:240.17px;font-size:11.6px;letter-spacing:0.731px;color:#f2f5fb;font-weight:700;-webkit-text-stroke:0.3px;">IV Surface</span>
<span id="opt" class="t" style="left:638.65px;top:281.55px;font-size:15.7px;letter-spacing:0.586px;color:#f2f5fb;">Option Type:</span>
<div class="btn" style="left:742px;top:265px;width:387px;height:54px;overflow:hidden;"><div style="left:346px;top:0;width:40px;height:52px;background:#131622;border-left:1px solid #262a37;"></div></div>
<span id="optv" class="t" style="left:754.61px;top:281.55px;font-size:15.7px;letter-spacing:0.273px;color:#f2f5fb;">Calls (C)</span>
<div class="" style="left:639px;top:323px;width:1244px;height:676px;background:#fff;overflow:hidden;"><svg style="left:0;top:0" width="1244" height="676" viewBox="0 0 895.68 486.72"><style>.g{fill:none;stroke:#b0b0b0;stroke-width:.8}.a{fill:none;stroke:#000;stroke-width:.8}</style><g> <g> <g> <path d="M 259.75 367.93 L 406.25 262.7 L 404.55 80.26 L 252.13 171.89 " style="fill: #f2f2f2; opacity: 0.5; stroke: #f2f2f2; stroke-linejoin: miter"/> </g> </g> <g> <g> <path d="M 406.25 262.7 L 640.47 321.15 L 647.51 131.07 L 404.55 80.26 " style="fill: #e6e6e6; opacity: 0.5; stroke: #e6e6e6; stroke-linejoin: miter"/> </g> </g> <g> <g> <path d="M 259.75 367.93 L 508.76 438.16 L 640.47 321.15 L 406.25 262.7 " style="fill: #ececec; opacity: 0.5; stroke: #ececec; stroke-linejoin: miter"/> </g> </g> <g> <g> <path d="M 267.37 370.08 L 413.45 264.5 L 412 81.82 " class="g"/> <path d="M 301 379.57 L 445.21 272.43 L 444.9 88.7 " class="g"/> <path d="M 335.17 389.2 L 477.43 280.46 L 478.29 95.68 " class="g"/> <path d="M 369.86 398.99 L 510.1 288.62 L 512.16 102.77 " class="g"/> <path d="M 405.1 408.92 L 543.25 296.89 L 546.55 109.96 " class="g"/> <path d="M 440.9 419.02 L 576.87 305.28 L 581.44 117.26 " class="g"/> <path d="M 477.28 429.28 L 610.98 313.79 L 616.87 124.66 " class="g"/> </g> </g> <g> <g> <path d="M 285.49 151.84 L 291.72 344.97 L 537.62 412.53 " class="g"/> <path d="M 318.62 131.92 L 323.53 322.12 L 566.26 387.08 " class="g"/> <path d="M 350.47 112.77 L 354.16 300.12 L 593.79 362.63 " class="g"/> <path d="M 381.12 94.35 L 383.67 278.93 L 620.25 339.11 " class="g"/> </g> </g> <g> <g> <path d="M 640.98 307.39 L 406.13 249.48 L 259.2 353.76 " class="g"/> <path d="M 641.91 282.23 L 405.9 225.3 L 258.19 327.84 " class="g"/> <path d="M 642.86 256.82 L 405.68 200.89 L 257.17 301.65 " class="g"/> <path d="M 643.81 231.16 L 405.45 176.24 L 256.15 275.19 " class="g"/> <path d="M 644.77 205.24 L 405.21 151.36 L 255.11 248.45 " class="g"/> <path d="M 645.74 179.05 L 404.98 126.24 L 254.06 221.42 " class="g"/> <path d="M 646.71 152.59 L 404.74 100.88 L 253 194.11 " class="g"/> </g> </g> <g> <g> <path d="M 259.75 367.93 L 508.76 438.16 " class="a" stroke-linecap="square"/> </g> <g> <g> <path d="M 268.64 369.16 L 264.81 371.93 " class="a" stroke-linecap="square"/> </g> <g> <text style="font-size:7.28px;font-family:'Liberation Sans',sans-serif;white-space:pre;text-anchor:middle;" textLength="13.36" lengthAdjust="spacing" x="259.7" y="390.68" transform="rotate(-0 259.7 390.68)">140</text> </g> </g> <g> <g> <path d="M 302.27 378.63 L 298.48 381.45 " class="a" stroke-linecap="square"/> </g> <g> <text style="font-size:7.28px;font-family:'Liberation Sans',sans-serif;white-space:pre;text-anchor:middle;" textLength="13.36" lengthAdjust="spacing" x="293.37" y="400.31" transform="rotate(-0 293.37 400.31)">160</text> </g> </g> <g> <g> <path d="M 336.41 388.25 L 332.67 391.11 " class="a" stroke-linecap="square"/> </g> <g> <text style="font-size:7.28px;font-family:'Liberation Sans',sans-serif;white-space:pre;text-anchor:middle;" textLength="13.36" lengthAdjust="spacing" x="327.57" y="410.09" transform="rotate(-0 327.57 410.09)">180</text> </g> </g> <g> <g> <path d="M 371.09 398.02 L 367.4 400.92 " class="a" stroke-linecap="square"/> </g> <g> <text style="font-size:7.28px;font-family:'Liberation Sans',sans-serif;white-space:pre;text-anchor:middle;" textLength="13.36" lengthAdjust="spacing" x="362.31" y="420.02" transform="rotate(-0 362.31 420.02)">200</text> </g> </g> <g> <g> <path d="M 406.31 407.94 L 402.67 410.89 " class="a" stroke-linecap="square"/> </g> <g> <text style="font-size:7.28px;font-family:'Liberation Sans',sans-serif;white-space:pre;text-anchor:middle;" textLength="13.36" lengthAdjust="spacing" x="397.59" y="430.12" transform="rotate(-0 397.59 430.12)">220</text> </g> </g> <g> <g> <path d="M 442.09 418.02 L 438.51 421.02 " class="a" stroke-linecap="square"/> </g> <g> <text style="font-size:7.28px;font-family:'Liberation Sans',sans-serif;white-space:pre;text-anchor:middle;" textLength="13.36" lengthAdjust="spacing" x="433.44" y="440.37" transform="rotate(-0 433.44 440.37)">240</text> </g> </g> <g> <g> <path d="M 478.45 428.27 L 474.92 431.31 " class="a" stroke-linecap="square"/> </g> <g> <text style="font-size:7.28px;font-family:'Liberation Sans',sans-serif;white-space:pre;text-anchor:middle;" textLength="13.36" lengthAdjust="spacing" x="469.86" y="450.79" transform="rotate(-0 469.86 450.79)">260</text> </g> </g> <g> <text style="font-size:8.32px;font-family:'Liberation Sans',sans-serif;white-space:pre;text-anchor:middle;" textLength="36.87" lengthAdjust="spacing" x="363.76" y="438.59" transform="rotate(-344.25 363.76 438.59)">Strike ($)</text> </g> </g> <g> <g> <path d="M 640.47 321.15 L 508.76 438.16 " class="a" stroke-linecap="square"/> </g> <g> <g> <path d="M 535.54 411.95 L 541.78 413.67 " class="a" stroke-linecap="square"/> </g> <g> <text style="font-size:7.28px;font-family:'Liberation Sans',sans-serif;white-space:pre;text-anchor:middle;" textLength="8.91" lengthAdjust="spacing" x="550.46" y="431.12" transform="rotate(-0 550.46 431.12)">20</text> </g> </g> <g> <g> <path d="M 564.22 386.53 L 570.36 388.18 " class="a" stroke-linecap="square"/> </g> <g> <text style="font-size:7.28px;font-family:'Liberation Sans',sans-serif;white-space:pre;text-anchor:middle;" textLength="8.91" lengthAdjust="spacing" x="578.87" y="405.39" transform="rotate(-0 578.87 405.39)">40</text> </g> </g> <g> <g> <path d="M 591.77 362.1 L 597.83 363.68 " class="a" stroke-linecap="square"/> </g> <g> <text style="font-size:7.28px;font-family:'Liberation Sans',sans-serif;white-space:pre;text-anchor:middle;" textLength="8.91" lengthAdjust="spacing" x="606.17" y="380.66" transform="rotate(-0 606.17 380.66)">60</text> </g> </g> <g> <g> <path d="M 618.26 338.61 L 624.24 340.13 " class="a" stroke-linecap="square"/> </g> <g> <text style="font-size:7.28px;font-family:'Liberation Sans',sans-serif;white-space:pre;text-anchor:middle;" textLength="8.91" lengthAdjust="spacing" x="632.42" y="356.89" transform="rotate(-0 632.42 356.89)">80</text> </g> </g> <g> <text style="font-size:8.32px;font-family:'Liberation Sans',sans-serif;white-space:pre;text-anchor:middle;" textLength="58.20" lengthAdjust="spacing" x="606.42" y="406.57" transform="rotate(-41.62 606.42 406.57)">Days to Expiry</text> </g> </g> <g> <g> <path d="M 640.47 321.15 L 647.51 131.07 " class="a" stroke-linecap="square"/> </g> <g> <g> <path d="M 639.01 306.9 L 644.94 308.37 " class="a" stroke-linecap="square"/> </g> <g> <text style="font-size:7.28px;font-family:'Liberation Sans',sans-serif;white-space:pre;text-anchor:middle;" textLength="8.91" lengthAdjust="spacing" x="659.33" y="310.48" transform="rotate(-0 659.33 310.48)">24</text> </g> </g> <g> <g> <path d="M 639.93 281.76 L 645.89 283.19 " class="a" stroke-linecap="square"/> </g> <g> <text style="font-size:7.28px;font-family:'Liberation Sans',sans-serif;white-space:pre;text-anchor:middle;" textLength="8.91" lengthAdjust="spacing" x="660.35" y="285.36" transform="rotate(-0 660.35 285.36)">25</text> </g> </g> <g> <g> <path d="M 640.86 256.35 L 646.85 257.77 " class="a" stroke-linecap="square"/> </g> <g> <text style="font-size:7.28px;font-family:'Liberation Sans',sans-serif;white-space:pre;text-anchor:middle;" textLength="8.91" lengthAdjust="spacing" x="661.38" y="259.99" transform="rotate(-0 661.38 259.99)">26</text> </g> </g> <g> <g> <path d="M 641.8 230.7 L 647.82 232.09 " class="a" stroke-linecap="square"/> </g> <g> <text style="font-size:7.28px;font-family:'Liberation Sans',sans-serif;white-space:pre;text-anchor:middle;" textLength="8.91" lengthAdjust="spacing" x="662.42" y="234.36" transform="rotate(-0 662.42 234.36)">27</text> </g> </g> <g> <g> <path d="M 642.75 204.78 L 648.81 206.14 " class="a" stroke-linecap="square"/> </g> <g> <text style="font-size:7.28px;font-family:'Liberation Sans',sans-serif;white-space:pre;text-anchor:middle;" textLength="8.91" lengthAdjust="spacing" x="663.47" y="208.48" transform="rotate(-0 663.47 208.48)">28</text> </g> </g> <g> <g> <path d="M 643.71 178.6 L 649.8 179.94 " class="a" stroke-linecap="square"/> </g> <g> <text style="font-size:7.28px;font-family:'Liberation Sans',sans-serif;white-space:pre;text-anchor:middle;" textLength="8.91" lengthAdjust="spacing" x="664.54" y="182.33" transform="rotate(-0 664.54 182.33)">29</text> </g> </g> <g> <g> <path d="M 644.68 152.16 L 650.8 153.47 " class="a" stroke-linecap="square"/> </g> <g> <text style="font-size:7.28px;font-family:'Liberation Sans',sans-serif;white-space:pre;text-anchor:middle;" textLength="8.91" lengthAdjust="spacing" x="665.61" y="155.92" transform="rotate(-0 665.61 155.92)">30</text> </g> </g> <g> <text style="font-size:8.32px;font-family:'Liberation Sans',sans-serif;white-space:pre;text-anchor:middle;" textLength="24.22" lengthAdjust="spacing" x="686.54" y="223.38" transform="rotate(-87.88 686.54 223.38)">IV (%)</text> </g> </g> <g> <g> <text style="font-size:9.36px;font-family:'Liberation Sans',sans-serif;white-space:pre;" textLength="168.56" lengthAdjust="spacing" transform="translate(363.56 18.12)">ADBJ Call — Implied Volatility Surface</text> <text style="font-size:9.36px;font-family:'Liberation Sans',sans-serif;white-space:pre;" textLength="115.21" lengthAdjust="spacing" transform="translate(390.24 28.20)">Spot: $205.89&#160; σ: 25.00%</text> </g> </g> </g> <g stroke="#000" stroke-opacity=".8" stroke-width=".3" fill-opacity=".8" stroke-linejoin="round"><polygon points="388.5,148.7 399.6,181.4 421.1,117.6 410.5,117.9" fill="#ba6139"/><polygon points="421.0,181.4 431.9,201.8 453.4,195.8 442.7,150.3" fill="#bb9b5e"/><polygon points="399.6,181.4 410.0,151.2 431.9,141.8 421.1,117.6" fill="#cdb570"/><polygon points="431.9,201.8 442.7,195.6 464.2,152.6 453.4,195.8" fill="#cbc48c"/><polygon points="410.0,151.2 421.0,181.4 442.7,150.3 431.9,141.8" fill="#b55a36"/><polygon points="453.6,239.0 464.5,242.6 485.9,167.6 474.9,203.0" fill="#97b661"/><polygon points="442.7,195.6 453.6,239.0 474.9,203.0 464.2,152.6" fill="#b7a66d"/><polygon points="464.5,242.6 475.5,215.3 496.3,235.7 485.9,167.6" fill="#93b15e"/><polygon points="475.5,215.3 486.7,202.0 507.3,229.8 496.3,235.7" fill="#c2c08e"/><polygon points="486.7,202.0 497.4,254.8 518.7,194.3 507.3,229.8" fill="#b7a164"/><polygon points="497.4,254.8 508.5,254.0 529.3,226.2 518.7,194.3" fill="#88ac57"/><polygon points="365.6,154.4 376.6,165.2 399.6,181.4 388.5,148.7" fill="#b0492e"/><polygon points="421.0,270.0 431.8,242.4 453.6,239.0 442.7,195.6" fill="#6aa252"/><polygon points="431.8,242.4 442.8,281.4 464.5,242.6 453.6,239.0" fill="#a2b06b"/><polygon points="508.5,254.0 519.8,243.1 540.4,225.4 529.3,226.2" fill="#92b15d"/><polygon points="409.6,200.7 421.0,270.0 442.7,195.6 431.9,201.8" fill="#b3975c"/><polygon points="398.8,207.9 409.6,200.7 431.9,201.8 421.0,181.4" fill="#c4b579"/><polygon points="376.6,165.2 387.5,170.4 410.0,151.2 399.6,181.4" fill="#bd613a"/><polygon points="519.8,243.1 530.8,256.2 551.2,244.5 540.4,225.4" fill="#a6b46d"/><polygon points="442.8,281.4 453.8,274.9 475.5,215.3 464.5,242.6" fill="#589b50"/><polygon points="387.5,170.4 398.8,207.9 421.0,181.4 410.0,151.2" fill="#b3633a"/><polygon points="530.8,256.2 542.2,251.9 562.6,235.0 551.2,244.5" fill="#98b261"/><polygon points="542.2,251.9 553.7,246.2 573.8,237.9 562.6,235.0" fill="#a6b86b"/><polygon points="453.8,274.9 464.9,249.4 486.7,202.0 475.5,215.3" fill="#77ab55"/><polygon points="476.0,275.4 487.2,272.2 508.5,254.0 497.4,254.8" fill="#7ea752"/><polygon points="464.9,249.4 476.0,275.4 497.4,254.8 486.7,202.0" fill="#a6b36f"/><polygon points="553.7,246.2 565.3,240.8 585.2,234.2 573.8,237.9" fill="#b3bd7b"/><polygon points="398.5,286.2 409.3,262.3 431.8,242.4 421.0,270.0" fill="#6aa352"/><polygon points="565.3,240.8 576.4,257.7 596.2,250.7 585.2,234.2" fill="#b9bb88"/><polygon points="386.8,219.5 398.5,286.2 421.0,270.0 409.6,200.7" fill="#ac975e"/><polygon points="487.2,272.2 498.5,270.0 519.8,243.1 508.5,254.0" fill="#8cae59"/><polygon points="364.8,214.8 375.9,225.9 398.8,207.9 387.5,170.4" fill="#c0aa6b"/><polygon points="409.3,262.3 420.5,274.8 442.8,281.4 431.8,242.4" fill="#9fb066"/><polygon points="576.4,257.7 588.0,255.7 607.9,239.4 596.2,250.7" fill="#aaba6f"/><polygon points="498.5,270.0 509.6,288.3 530.8,256.2 519.8,243.1" fill="#92ac5d"/><polygon points="420.5,274.8 431.6,278.7 453.8,274.9 442.8,281.4" fill="#8eab5b"/><polygon points="375.9,225.9 386.8,219.5 409.6,200.7 398.8,207.9" fill="#c7ba80"/><polygon points="353.1,173.0 364.8,214.8 387.5,170.4 376.6,165.2" fill="#af4a2e"/><polygon points="509.6,288.3 520.9,292.8 542.2,251.9 530.8,256.2" fill="#71a251"/><polygon points="341.4,135.0 353.1,173.0 376.6,165.2 365.6,154.4" fill="#76001b"/><polygon points="588.0,255.7 599.3,268.1 619.8,228.5 607.9,239.4" fill="#b1bc79"/><polygon points="431.6,278.7 442.8,273.5 464.9,249.4 453.8,274.9" fill="#91b05d"/><polygon points="520.9,292.8 532.5,278.4 553.7,246.2 542.2,251.9" fill="#70a452"/><polygon points="442.8,273.5 454.0,287.1 476.0,275.4 464.9,249.4" fill="#9bb063"/><polygon points="454.0,287.1 465.3,289.2 487.2,272.2 476.0,275.4" fill="#88aa57"/><polygon points="532.5,278.4 543.8,292.7 565.3,240.8 553.7,246.2" fill="#95b05f"/><polygon points="543.8,292.7 555.2,301.7 576.4,257.7 565.3,240.8" fill="#7ca652"/><polygon points="555.2,301.7 566.2,327.5 588.0,255.7 576.4,257.7" fill="#6b9d4f"/><polygon points="465.3,289.2 476.6,308.0 498.5,270.0 487.2,272.2" fill="#87a857"/><polygon points="566.2,327.5 577.4,345.8 599.3,268.1 588.0,255.7" fill="#267f43"/><polygon points="374.8,266.0 386.1,278.0 409.3,262.3 398.5,286.2" fill="#b2ba7d"/><polygon points="363.6,256.5 374.8,266.0 398.5,286.2 386.8,219.5" fill="#b8ba87"/><polygon points="341.6,254.0 351.5,200.0 375.9,225.9 364.8,214.8" fill="#c5cb8e"/><polygon points="329.1,187.7 341.6,254.0 364.8,214.8 353.1,173.0" fill="#a6452b"/><polygon points="476.6,308.0 488.2,271.2 509.6,288.3 498.5,270.0" fill="#639e51"/><polygon points="488.2,271.2 499.5,303.9 520.9,292.8 509.6,288.3" fill="#acb379"/><polygon points="351.5,200.0 363.6,256.5 386.8,219.5 375.9,225.9" fill="#ad5734"/><polygon points="386.1,278.0 397.2,267.5 420.5,274.8 409.3,262.3" fill="#a7b86b"/><polygon points="397.2,267.5 408.8,309.1 431.6,278.7 420.5,274.8" fill="#b1b580"/><polygon points="499.5,303.9 510.9,310.6 532.5,278.4 520.9,292.8" fill="#7ba551"/><polygon points="408.8,309.1 420.0,300.7 442.8,273.5 431.6,278.7" fill="#70a351"/><polygon points="317.4,160.7 329.1,187.7 353.1,173.0 341.4,135.0" fill="#8d131c"/><polygon points="420.0,300.7 431.4,317.4 454.0,287.1 442.8,273.5" fill="#87a856"/><polygon points="510.9,310.6 523.1,270.9 543.8,292.7 532.5,278.4" fill="#75a653"/><polygon points="431.4,317.4 442.7,296.5 465.3,289.2 454.0,287.1" fill="#6ba151"/><polygon points="546.1,299.4 557.4,328.0 577.4,345.8 566.2,327.5" fill="#93a75e"/><polygon points="534.3,300.2 546.1,299.4 566.2,327.5 555.2,301.7" fill="#93ab5e"/><polygon points="523.1,270.9 534.3,300.2 555.2,301.7 543.8,292.7" fill="#b7b789"/><polygon points="442.7,296.5 454.2,320.4 476.6,308.0 465.3,289.2" fill="#98ac61"/><polygon points="326.3,235.4 337.9,254.4 351.5,200.0 341.6,254.0" fill="#c7a765"/><polygon points="314.5,202.5 326.3,235.4 341.6,254.0 329.1,187.7" fill="#ab5131"/><polygon points="349.0,257.0 360.7,283.5 374.8,266.0 363.6,256.5" fill="#bdb47f"/><polygon points="360.7,283.5 371.8,281.7 386.1,278.0 374.8,266.0" fill="#aab96f"/><polygon points="337.9,254.4 349.0,257.0 363.6,256.5 351.5,200.0" fill="#c1b882"/><polygon points="454.2,320.4 465.7,315.4 488.2,271.2 476.6,308.0" fill="#73a552"/><polygon points="383.1,285.8 394.8,323.3 408.8,309.1 397.2,267.5" fill="#a5b070"/><polygon points="371.8,281.7 383.1,285.8 397.2,267.5 386.1,278.0" fill="#b2bd7a"/><polygon points="302.5,171.2 314.5,202.5 329.1,187.7 317.4,160.7" fill="#90161c"/><polygon points="394.8,323.3 405.8,284.2 420.0,300.7 408.8,309.1" fill="#679f51"/><polygon points="465.7,315.4 477.3,320.2 499.5,303.9 488.2,271.2" fill="#83a753"/><polygon points="477.3,320.2 488.9,326.3 510.9,310.6 499.5,303.9" fill="#7da551"/><polygon points="338.0,282.2 349.6,301.2 360.7,283.5 349.0,257.0" fill="#b2bb7c"/><polygon points="303.6,236.7 315.3,259.4 326.3,235.4 314.5,202.5" fill="#c09a5c"/><polygon points="349.6,301.2 360.7,300.2 371.8,281.7 360.7,283.5" fill="#99b462"/><polygon points="315.3,259.4 325.4,221.6 337.9,254.4 326.3,235.4" fill="#c3ba83"/><polygon points="405.8,284.2 417.4,307.4 431.4,317.4 420.0,300.7" fill="#afb47e"/><polygon points="292.4,229.7 303.6,236.7 314.5,202.5 302.5,171.2" fill="#c99758"/><polygon points="325.4,221.6 338.0,282.2 349.0,257.0 337.9,254.4" fill="#b06339"/><polygon points="372.2,311.0 383.7,327.9 394.8,323.3 383.1,285.8" fill="#89a758"/><polygon points="488.9,326.3 500.5,339.6 523.1,270.9 510.9,310.6" fill="#79a652"/><polygon points="417.4,307.4 428.9,310.4 442.7,296.5 431.4,317.4" fill="#98b161"/><polygon points="360.7,300.2 372.2,311.0 383.1,285.8 371.8,281.7" fill="#a1b667"/><polygon points="291.6,238.1 304.0,282.2 315.3,259.4 303.6,236.7" fill="#b8864d"/><polygon points="280.6,239.0 291.6,238.1 303.6,236.7 292.4,229.7" fill="#c29557"/><polygon points="428.9,310.4 440.5,330.3 454.2,320.4 442.7,296.5" fill="#92ab5e"/><polygon points="304.0,282.2 314.9,274.5 325.4,221.6 315.3,259.4" fill="#c7cf8d"/><polygon points="326.7,297.9 337.5,282.8 349.6,301.2 338.0,282.2" fill="#a5b56b"/><polygon points="500.5,339.6 512.3,332.8 534.3,300.2 523.1,270.9" fill="#5e9b50"/><polygon points="383.7,327.9 394.7,294.8 405.8,284.2 394.8,323.3" fill="#74a854"/><polygon points="349.5,314.6 361.4,346.2 372.2,311.0 360.7,300.2" fill="#8fac5c"/><polygon points="440.5,330.3 452.0,306.4 465.7,315.4 454.2,320.4" fill="#73a351"/><polygon points="314.9,274.5 326.7,297.9 338.0,282.2 325.4,221.6" fill="#bfbc89"/><polygon points="337.5,282.8 349.5,314.6 360.7,300.2 349.6,301.2" fill="#bbbb8c"/><polygon points="394.7,294.8 406.9,371.2 417.4,307.4 405.8,284.2" fill="#adb47a"/><polygon points="512.3,332.8 524.2,327.6 546.1,299.4 534.3,300.2" fill="#77a552"/><polygon points="361.4,346.2 372.1,311.0 383.7,327.9 372.2,311.0" fill="#4b924c"/><polygon points="452.0,306.4 463.6,355.5 477.3,320.2 465.7,315.4" fill="#a2af6b"/><polygon points="406.9,371.2 417.9,318.1 428.9,310.4 417.4,307.4" fill="#0d6e3a"/><polygon points="524.2,327.6 535.8,347.1 557.4,328.0 546.1,299.4" fill="#85a655"/><polygon points="463.6,355.5 475.4,330.1 488.9,326.3 477.3,320.2" fill="#3c8c49"/><polygon points="383.9,336.0 395.6,356.4 406.9,371.2 394.7,294.8" fill="#6e974b"/><polygon points="475.4,330.1 487.0,356.1 500.5,339.6 488.9,326.3" fill="#83a454"/><polygon points="487.0,356.1 498.5,383.4 512.3,332.8 500.5,339.6" fill="#4c904c"/><polygon points="372.1,311.0 383.9,336.0 394.7,294.8 383.7,327.9" fill="#a7b96b"/><polygon points="417.9,318.1 429.5,319.8 440.5,330.3 428.9,310.4" fill="#94ac5f"/><polygon points="395.6,356.4 406.9,340.3 417.9,318.1 406.9,371.2" fill="#4b954e"/><polygon points="429.5,319.8 441.2,349.2 452.0,306.4 440.5,330.3" fill="#9cb464"/><polygon points="441.2,349.2 452.9,335.8 463.6,355.5 452.0,306.4" fill="#5c954c"/><polygon points="406.9,340.3 418.9,397.6 429.5,319.8 417.9,318.1" fill="#7ba451"/><polygon points="498.5,383.4 510.9,333.1 524.2,327.6 512.3,332.8" fill="#0e703b"/><polygon points="452.9,335.8 464.6,364.5 475.4,330.1 463.6,355.5" fill="#85a855"/><polygon points="418.9,397.6 430.3,366.0 441.2,349.2 429.5,319.8" fill="#00552d"/><polygon points="476.4,351.2 488.1,383.5 498.5,383.4 487.0,356.1" fill="#69954a"/><polygon points="464.6,364.5 476.4,351.2 487.0,356.1 475.4,330.1" fill="#438c49"/><polygon points="430.3,366.0 442.0,372.7 452.9,335.8 441.2,349.2" fill="#48924c"/><polygon points="510.9,333.1 523.0,327.6 535.8,347.1 524.2,327.6" fill="#90ab5c"/><polygon points="442.0,372.7 453.8,367.1 464.6,364.5 452.9,335.8" fill="#3c8948"/><polygon points="488.1,383.5 500.4,333.9 510.9,333.1 498.5,383.4" fill="#1e8144"/><polygon points="453.8,367.1 465.5,395.5 476.4,351.2 464.6,364.5" fill="#57964d"/><polygon points="465.5,395.5 477.4,394.8 488.1,383.5 476.4,351.2" fill="#106e3a"/><polygon points="477.4,394.8 489.4,387.4 500.4,333.9 488.1,383.5" fill="#177f43"/><polygon points="500.4,333.9 512.2,356.2 523.0,327.6 510.9,333.1" fill="#a3b568"/><polygon points="489.4,387.4 501.4,391.8 512.2,356.2 500.4,333.9" fill="#378a48"/></g></svg></div>
<div class="" style="left:30px;top:1028px;width:1861px;height:34px;background:#0f1424;"></div>
<span id="k1" class="t" style="left:29.74px;top:1035.28px;font-size:13.6px;letter-spacing:1.515px;color:#dde2ec;">hipsaw: Currency desks go wild on surprise headlines. (6h00m left)</span>
<span id="k2" class="t" style="left:582.96px;top:1035.28px;font-size:13.6px;letter-spacing:1.456px;color:#dde2ec;">Now Playing: Long-term Slow Burn</span>
<span id="k3" class="t" style="left:887.99px;top:1035.28px;font-size:13.6px;letter-spacing:1.571px;color:#dde2ec;">Tech Antitrust: Regulators break up tech giants. (9h05m left)</span>
<div class="clip" style="left:1380px;top:1028px;width:511px;height:34px"><span id="k4" class="t" style="left:11.75px;top:7.28px;font-size:13.6px;letter-spacing:1.482px;color:#dde2ec;">FX Whipsaw: Currency desks go wild on surprise headlines. (6h00m</span></div>
<svg style="left:543.4px;top:1038.6px" width="10" height="10" viewBox="0 0 10 10"><path d="M5 0.3 L6.2 3.7 L9.8 3.8 L6.9 6 L8 9.5 L5 7.4 L2 9.5 L3.1 6 L0.2 3.8 L3.8 3.7 Z" fill="#dde2ec"/></svg>
<svg style="left:850.7px;top:1038.6px" width="10" height="10" viewBox="0 0 10 10"><path d="M5 0.3 L6.2 3.7 L9.8 3.8 L6.9 6 L8 9.5 L5 7.4 L2 9.5 L3.1 6 L0.2 3.8 L3.8 3.7 Z" fill="#dde2ec"/></svg>
<svg style="left:1355px;top:1038.6px" width="10" height="10" viewBox="0 0 10 10"><path d="M5 0.3 L6.2 3.7 L9.8 3.8 L6.9 6 L8 9.5 L5 7.4 L2 9.5 L3.1 6 L0.2 3.8 L3.8 3.7 Z" fill="#dde2ec"/></svg>
<svg style="left:566.5px;top:1039px" width="10" height="11" viewBox="0 0 10 11"><g fill="none" stroke="#dde2ec" stroke-width="1"><path d="M2.6 8.6 V1.5 H8.2 V8"/><path d="M2.6 3.3 H8.2"/></g><ellipse cx="1.7" cy="8.8" rx="1.5" ry="1.1" fill="#dde2ec"/><ellipse cx="7.3" cy="8.2" rx="1.5" ry="1.1" fill="#dde2ec"/></svg>
<svg style="left:873px;top:1038.5px" width="9" height="12" viewBox="0 0 9 12"><path d="M5.6 0.5 L1 6.2 L4 6.2 L2.6 11.5 L7.8 5 L4.8 5 Z" fill="#dde2ec"/></svg>
<svg style="left:1377.3px;top:1038.5px" width="9" height="12" viewBox="0 0 9 12"><path d="M5.6 0.5 L1 6.2 L4 6.2 L2.6 11.5 L7.8 5 L4.8 5 Z" fill="#dde2ec"/></svg>
</body></html>
